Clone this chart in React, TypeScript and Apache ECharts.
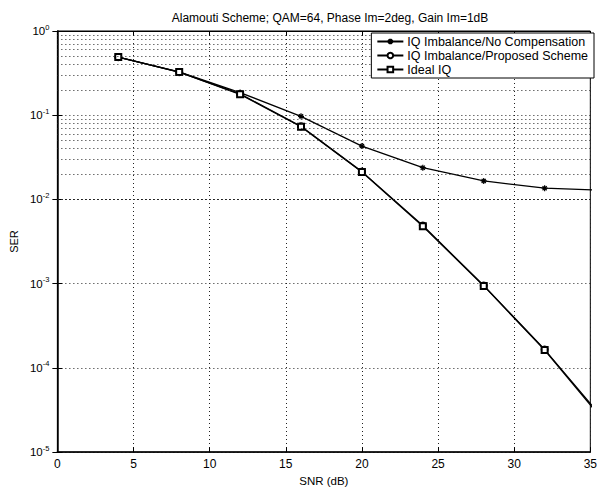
import React, { useEffect, useRef } from "react";
import * as echarts from "echarts";

const snr = [4, 8, 12, 16, 20, 24, 28, 32, 36];
const noCompensation = [0.49, 0.327, 0.186, 0.097, 0.043, 0.0238, 0.0166, 0.0136, 0.0128];
const proposedScheme = [0.49, 0.325, 0.179, 0.074, 0.0214, 0.0049, 0.00095, 0.000165, 0.000023];
const idealIQ = [0.49, 0.325, 0.177, 0.073, 0.0212, 0.0048, 0.00094, 0.000163, 0.000022];
const seriesNames = [
  "IQ Imbalance/No Compensation",
  "IQ Imbalance/Proposed Scheme",
  "Ideal IQ",
];
const decadeExponents = [-5, -4, -3, -2, -1];
const minorMultipliers = [2, 3, 4, 5, 6, 7, 8, 9];
const minorGridValues: number[] = [];
decadeExponents.forEach((e) =>
  minorMultipliers.forEach((m) => minorGridValues.push(m * Math.pow(10, e)))
);

const FONT = "Liberation Sans";
const ASTERISK =
  "path://M5,0L5,10M0,5L10,5M1.5,1.5L8.5,8.5M1.5,8.5L8.5,1.5";

export default function App() {
  const ref = useRef<HTMLDivElement>(null);
  useEffect(() => {
    if (!ref.current) return;
    const chart = echarts.init(ref.current, undefined, { renderer: "svg" });
    const dotted = { type: [1, 3] as any, color: "#222", width: 1 };
    const toPairs = (ys: number[]) => snr.map((x, i) => [x, ys[i]]);
    chart.setOption({
      animation: false,
      backgroundColor: "#fff",
      title: {
        text: "Alamouti Scheme; QAM=64, Phase Im=2deg, Gain Im=1dB",
        left: 325,
        textAlign: "center",
        top: 7,
        textStyle: { fontFamily: FONT, fontSize: 12, fontWeight: "normal", color: "#000" },
      },
      legend: {
        orient: "vertical",
        right: 6,
        top: 33,
        z: 20,
        backgroundColor: "#fff",
        borderColor: "#000",
        borderWidth: 1,
        padding: [2, 6, 2, 5],
        itemGap: 1,
        itemWidth: 26,
        itemHeight: 7,
        selectedMode: false,
        textStyle: {
          fontFamily: FONT,
          fontSize: 12.5,
          lineHeight: 11,
          color: "#000",
          padding: [0, 0, 0, -1],
        },
        data: seriesNames,
      },
      grid: {
        left: 55,
        right: 5,
        top: 31,
        bottom: 35,
        show: true,
        borderColor: "#000",
        borderWidth: 1,
        backgroundColor: "#fff",
      },
      xAxis: [
        {
          type: "value",
          min: 0,
          max: 35,
          interval: 5,
          name: "SNR (dB)",
          nameLocation: "middle",
          nameGap: 22,
          nameTextStyle: { fontFamily: FONT, fontSize: 11.5, color: "#000" },
          axisLine: { lineStyle: { color: "#000", width: 1.5 } },
          axisTick: { inside: true, length: 5, lineStyle: { color: "#000" } },
          axisLabel: { fontFamily: FONT, fontSize: 12, color: "#000", margin: 6 },
          splitLine: { show: true, lineStyle: dotted },
        },
        {
          type: "value",
          position: "top",
          min: 0,
          max: 35,
          interval: 5,
          axisLine: { show: true, lineStyle: { color: "#000" } },
          axisTick: { inside: true, length: 5, lineStyle: { color: "#000" } },
          axisLabel: { show: false },
          splitLine: { show: false },
        },
      ],
      yAxis: [
        {
          type: "log",
          logBase: 10,
          min: 1e-5,
          max: 1,
          splitNumber: 5,
          name: "SER",
          nameLocation: "middle",
          nameGap: 38,
          nameRotate: 90,
          nameTextStyle: { fontFamily: FONT, fontSize: 11, color: "#000" },
          axisLine: { show: true, lineStyle: { color: "#000", width: 1.5 } },
          axisTick: { inside: true, length: 5, lineStyle: { color: "#000" } },
          axisLabel: {
            margin: 8,
            formatter: (v: number) => {
              const e = Math.round(Math.log10(v));
              return `{b|10}{s|${e}}`;
            },
            rich: {
              b: { fontFamily: FONT, fontSize: 11.5, color: "#000" },
              s: { fontFamily: FONT, fontSize: 7.5, color: "#000", padding: [0, 0, 8, 0] },
            },
          },
          splitLine: { show: true, lineStyle: dotted },
        },
        {
          type: "log",
          logBase: 10,
          position: "right",
          min: 1e-5,
          max: 1,
          splitNumber: 5,
          axisLine: { show: true, lineStyle: { color: "#000" } },
          axisTick: { inside: true, length: 5, lineStyle: { color: "#000" } },
          axisLabel: { show: false },
          splitLine: { show: false },
        },
      ],
      series: [
        {
          name: seriesNames[0],
          type: "line",
          data: toPairs(noCompensation),
          symbol: ASTERISK,
          symbolSize: 6,
          lineStyle: { color: "#000", width: 1.3 },
          itemStyle: { color: "#000", borderColor: "#000", borderWidth: 1.2 },
          emphasis: { disabled: true },
          silent: true,
          markLine: {
            silent: true,
            symbol: ["none", "none"],
            label: { show: false },
            lineStyle: dotted,
            emphasis: { disabled: true },
            data: minorGridValues.map((v) => ({ yAxis: v })),
          },
        },
        {
          name: seriesNames[1],
          type: "line",
          data: toPairs(proposedScheme),
          symbol: "emptyCircle",
          symbolSize: 6,
          lineStyle: { color: "#000", width: 1.3 },
          itemStyle: { color: "#000", borderWidth: 1.2 },
          emphasis: { disabled: true },
          silent: true,
        },
        {
          name: seriesNames[2],
          type: "line",
          data: toPairs(idealIQ),
          symbol: "emptyRect",
          symbolSize: 6,
          lineStyle: { color: "#000", width: 1.3 },
          itemStyle: { color: "#000", borderWidth: 1.2 },
          emphasis: { disabled: true },
          silent: true,
        },
      ],
    });
    return () => chart.dispose();
  }, []);
  return (
    <div
      ref={ref}
      style={{ position: "fixed", left: 0, top: 0, width: 600, height: 492 }}
    />
  );
}
